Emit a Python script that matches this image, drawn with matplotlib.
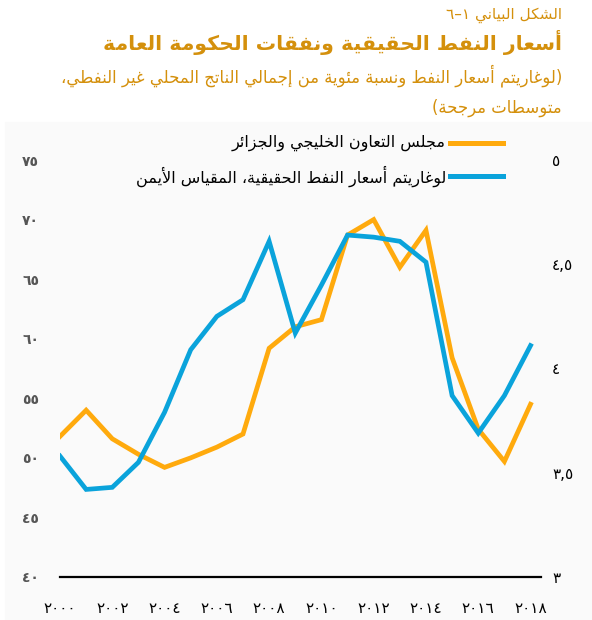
import re

import matplotlib
matplotlib.use("Agg")
import matplotlib.pyplot as plt
from matplotlib.lines import Line2D
from matplotlib.patches import Rectangle

plt.rcParams["font.family"] = ["DejaVu Sans"]

# ------------------------------------------------------------------
# Data
# ------------------------------------------------------------------
years = list(range(2000, 2019))
spending_gcc_algeria = [51.8, 54.0, 51.6, 50.3, 49.2, 50.0, 50.9, 52.0, 59.2, 61.0,
                        61.6, 68.7, 70.0, 66.0, 69.1, 58.4, 52.4, 49.7, 54.5]
log_real_oil_price = [3.58, 3.42, 3.43, 3.55, 3.79, 4.09, 4.25, 4.33, 4.61, 4.17,
                      4.40, 4.64, 4.63, 4.61, 4.51, 3.87, 3.69, 3.87, 4.11]

left_ticks = [40, 45, 50, 55, 60, 65, 70, 75]
right_ticks = [3, 3.5, 4, 4.5, 5]
right_tick_labels = ["٣", "٣,٥", "٤", "٤,٥", "٥"]
x_ticks = years[::2]

fig_label = "الشكل البياني ١–٦"
title = "أسعار النفط الحقيقية ونفقات الحكومة العامة"
subtitle_1 = "(لوغاريتم أسعار النفط ونسبة مئوية من إجمالي الناتج المحلي غير النفطي،"
subtitle_2 = "متوسطات مرجحة)"
label_spending = "مجلس التعاون الخليجي والجزائر"
label_oil = "لوغاريتم أسعار النفط الحقيقية، المقياس الأيمن"

ORANGE = "#FFAA0D"
BLUE = "#0AA3DB"
TITLE_COLOR = "#D4900C"

# ------------------------------------------------------------------
# Minimal Arabic shaping (matplotlib has no complex text layout)
# ------------------------------------------------------------------
# char -> (isolated presentation form, joining: 0 none, 1 right, 2 dual)
_FORMS = {
    "\u0621": (0xFE80, 0), "\u0622": (0xFE81, 1), "\u0623": (0xFE83, 1),
    "\u0624": (0xFE85, 1), "\u0625": (0xFE87, 1), "\u0626": (0xFE89, 2),
    "\u0627": (0xFE8D, 1), "\u0628": (0xFE8F, 2), "\u0629": (0xFE93, 1),
    "\u062A": (0xFE95, 2), "\u062B": (0xFE99, 2), "\u062C": (0xFE9D, 2),
    "\u062D": (0xFEA1, 2), "\u062E": (0xFEA5, 2), "\u062F": (0xFEA9, 1),
    "\u0630": (0xFEAB, 1), "\u0631": (0xFEAD, 1), "\u0632": (0xFEAF, 1),
    "\u0633": (0xFEB1, 2), "\u0634": (0xFEB5, 2), "\u0635": (0xFEB9, 2),
    "\u0636": (0xFEBD, 2), "\u0637": (0xFEC1, 2), "\u0638": (0xFEC5, 2),
    "\u0639": (0xFEC9, 2), "\u063A": (0xFECD, 2), "\u0641": (0xFED1, 2),
    "\u0642": (0xFED5, 2), "\u0643": (0xFED9, 2), "\u0644": (0xFEDD, 2),
    "\u0645": (0xFEE1, 2), "\u0646": (0xFEE5, 2), "\u0647": (0xFEE9, 2),
    "\u0648": (0xFEED, 1), "\u0649": (0xFEEF, 1), "\u064A": (0xFEF1, 2),
}
_LAM_ALEF = {"\u0622": 0xFEF5, "\u0623": 0xFEF7, "\u0625": 0xFEF9, "\u0627": 0xFEFB}
_MIRROR = str.maketrans("()", ")(")


def _joining(c):
    if c in _FORMS:
        return _FORMS[c][1]
    return 2 if c == "\u0640" else -1


def _shape(text):
    out = []
    i, n = 0, len(text)
    while i < n:
        c = text[i]
        if c not in _FORMS:
            out.append(c)
            i += 1
            continue
        prev = text[i - 1] if i > 0 else ""
        base, kind = _FORMS[c]
        joins_prev = _joining(prev) == 2 and kind > 0
        if c == "\u0644" and i + 1 < n and text[i + 1] in _LAM_ALEF:
            out.append(chr(_LAM_ALEF[text[i + 1]] + (1 if joins_prev else 0)))
            i += 2
            continue
        nxt = text[i + 1] if i + 1 < n else ""
        joins_next = kind == 2 and _joining(nxt) > 0
        if joins_prev and joins_next:
            off = 3
        elif joins_prev:
            off = 1
        elif joins_next:
            off = 2
        else:
            off = 0
        out.append(chr(base + off))
        i += 1
    return "".join(out)


def rtl(text):
    s = _shape(text)[::-1].translate(_MIRROR)
    return re.sub(r"[0-9\u0660-\u0669]+", lambda m: m.group(0)[::-1], s)


_DIGITS = str.maketrans("0123456789", "٠١٢٣٤٥٦٧٨٩")


def ar_num(v):
    return str(v).translate(_DIGITS)


# ------------------------------------------------------------------
# Figure
# ------------------------------------------------------------------
W, H = 592, 620
fig = plt.figure(figsize=(W / 100, H / 100), dpi=100)
fig.patches.append(Rectangle((5 / W, 0), 1, (620 - 122) / H, transform=fig.transFigure,
                             color="#FAFAFA", zorder=-5))

ax = fig.add_axes([60 / W, (H - 577) / H, 481 / W, 417 / H])
ax.set_facecolor("none")
ax.plot(years, spending_gcc_algeria, color=ORANGE, lw=3.4, solid_joinstyle="miter")
ax.set_xlim(2000, 2018.4)
ax.set_ylim(40, 75)
ax.set_yticks(left_ticks)
ax.set_yticklabels([ar_num(v) for v in left_ticks], color="#555555",
                   fontsize=10, fontweight="bold")
ax.set_xticks(x_ticks)
ax.set_xticklabels([ar_num(v) for v in x_ticks], fontsize=11)
ax.tick_params(axis="y", length=0, pad=15)
ax.tick_params(axis="x", length=0, pad=17)
for side in ("top", "left", "right"):
    ax.spines[side].set_visible(False)
ax.spines["bottom"].set_linewidth(1.6)

ax2 = ax.twinx()
ax2.plot(years, log_real_oil_price, color=BLUE, lw=3.4, solid_joinstyle="miter")
ax2.set_ylim(3, 5)
ax2.set_yticks(right_ticks)
ax2.set_yticklabels(right_tick_labels, fontsize=11)
ax2.tick_params(axis="y", length=0, pad=8)
for side in ("top", "left", "right", "bottom"):
    ax2.spines[side].set_visible(False)

# titles
fig.text(562 / W, 1 - 15 / H, rtl(fig_label), color=TITLE_COLOR, fontsize=11,
         ha="right", va="center")
fig.text(562 / W, 1 - 42 / H, rtl(title), color=TITLE_COLOR, fontsize=14.7,
         fontweight="bold", ha="right", va="center")
fig.text(562 / W, 1 - 76 / H, rtl(subtitle_1), color=TITLE_COLOR, fontsize=11.9,
         ha="right", va="center")
fig.text(562 / W, 1 - 108 / H, rtl(subtitle_2), color=TITLE_COLOR, fontsize=11.9,
         ha="right", va="center")

# legend (text to the left of the line, right aligned)
for y, color, label in [(143, ORANGE, label_spending), (176, BLUE, label_oil)]:
    fig.add_artist(Line2D([450 / W, 503 / W], [1 - y / H, 1 - y / H], color=color,
                          lw=3.6, transform=fig.transFigure))
    fig.text(446 / W, 1 - y / H, rtl(label), fontsize=11.5, ha="right", va="center")

fig.savefig("out.png", dpi=100)
